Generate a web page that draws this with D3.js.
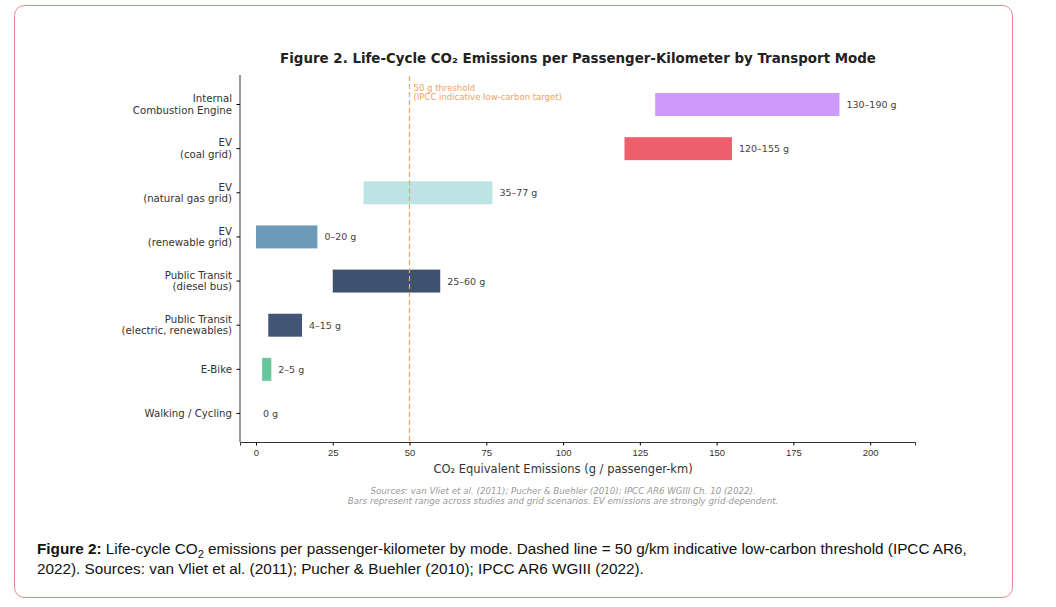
<!DOCTYPE html>
<html><head><meta charset="utf-8">
<script src="https://cdn.jsdelivr.net/npm/d3@7"></script>
<style>body{margin:0;background:#fff;font-family:"DejaVu Sans",sans-serif;}</style>
</head><body>
<svg id="c" width="1056" height="607" font-family="DejaVu Sans, sans-serif"></svg>
<script>
const categories=["Internal\nCombustion Engine","EV\n(coal grid)","EV\n(natural gas grid)","EV\n(renewable grid)","Public Transit\n(diesel bus)","Public Transit\n(electric, renewables)","E-Bike","Walking / Cycling"];
const lows=[130,120,35,0,25,4,2,0];
const highs=[190,155,77,20,60,15,5,0];
const labels=["130–190 g","120–155 g","35–77 g","0–20 g","25–60 g","4–15 g","2–5 g","0 g"];
const colors=["#cf98fb","#ec5f6b","#bde4e5","#6c9bb9","#3e5171","#435576","#67c79b","#999"];
const xTicks=[0,25,50,75,100,125,150,175,200];
const threshold=50;

const svg=d3.select("#c");
svg.append("rect").attr("x",14.5).attr("y",5.5).attr("width",998).attr("height",592).attr("rx",10).attr("fill","none").attr("stroke","#e8868a").attr("stroke-width",1);

const x=d3.scaleLinear().domain([-5.2,214.6]).range([240,915]);
const y=d3.scaleBand().domain(categories).range([82,436]).paddingInner(0.48).paddingOuter(0.25);
const g=svg.append("g");

svg.append("text").attr("x",578).attr("y",63).attr("text-anchor","middle").attr("font-size",13.4).attr("font-weight","bold").attr("fill","#222").text("Figure 2. Life-Cycle CO₂ Emissions per Passenger-Kilometer by Transport Mode");

categories.forEach((c,i)=>{
  if(highs[i]>lows[i]) g.append("rect").attr("x",x(lows[i])).attr("y",y(c)).attr("width",x(highs[i])-x(lows[i])).attr("height",y.bandwidth()).attr("fill",colors[i]);
  g.append("text").attr("x",x(highs[i])+7).attr("y",y(c)+y.bandwidth()/2+3.5).attr("font-size",9.5).attr("fill","#444").text(labels[i]);
});
g.append("line").attr("x1",x(threshold)).attr("x2",x(threshold)).attr("y1",76).attr("y2",442).attr("stroke","#f5a060").attr("stroke-width",1.2).attr("stroke-dasharray","5,3");
g.append("text").attr("x",x(threshold)+4).attr("y",91).attr("font-size",8.5).attr("fill","#f5a060").text("50 g threshold");
g.append("text").attr("x",x(threshold)+4).attr("y",100).attr("font-size",8.5).attr("fill","#f5a060").text("(IPCC indicative low-carbon target)");

const xa=g.append("g").attr("transform","translate(0,442)").call(d3.axisBottom(x).tickValues(xTicks).tickSize(3.5).tickPadding(4));
xa.selectAll("text").attr("font-size",9.5).attr("fill","#333");
xa.select(".domain").attr("stroke","#333");
const ya=g.append("g").attr("transform","translate(240,0)").call(d3.axisLeft(y).tickSize(3.5).tickFormat(""));
ya.select(".domain").attr("d","M0,75V442").attr("stroke","#333");
categories.forEach(c=>{
  const lines=c.split("\n");const cy=y(c)+y.bandwidth()/2;
  lines.forEach((l,j)=>g.append("text").attr("x",232).attr("y",cy+3.5+(j-(lines.length-1)/2)*11.5).attr("text-anchor","end").attr("font-size",10.2).attr("fill","#333").text(l));
});
svg.append("text").attr("x",x(100)).attr("y",473).attr("text-anchor","middle").attr("font-size",11.5).attr("fill","#333").text("CO₂ Equivalent Emissions (g / passenger-km)");
svg.append("text").attr("x",x(100)).attr("y",494).attr("text-anchor","middle").attr("font-size",8.7).attr("font-style","italic").attr("fill","#999").text("Sources: van Vliet et al. (2011); Pucher & Buehler (2010); IPCC AR6 WGIII Ch. 10 (2022).");
svg.append("text").attr("x",x(100)).attr("y",504).attr("text-anchor","middle").attr("font-size",8.7).attr("font-style","italic").attr("fill","#999").text("Bars represent range across studies and grid scenarios. EV emissions are strongly grid-dependent.");

const cap=svg.append("text").attr("x",37).attr("y",554).attr("font-family","Liberation Sans, Arial, sans-serif").attr("font-size",15.3).attr("fill","#111");
cap.append("tspan").attr("font-weight","bold").text("Figure 2:");
cap.append("tspan").text(" Life-cycle CO");
cap.append("tspan").attr("font-size",11).attr("dy",4).text("2");
cap.append("tspan").attr("dy",-4).text(" emissions per passenger-kilometer by mode. Dashed line = 50 g/km indicative low-carbon threshold (IPCC AR6,");
svg.append("text").attr("x",37).attr("y",574).attr("font-family","Liberation Sans, Arial, sans-serif").attr("font-size",15.3).attr("fill","#111").text("2022). Sources: van Vliet et al. (2011); Pucher & Buehler (2010); IPCC AR6 WGIII (2022).");
</script></body></html>
